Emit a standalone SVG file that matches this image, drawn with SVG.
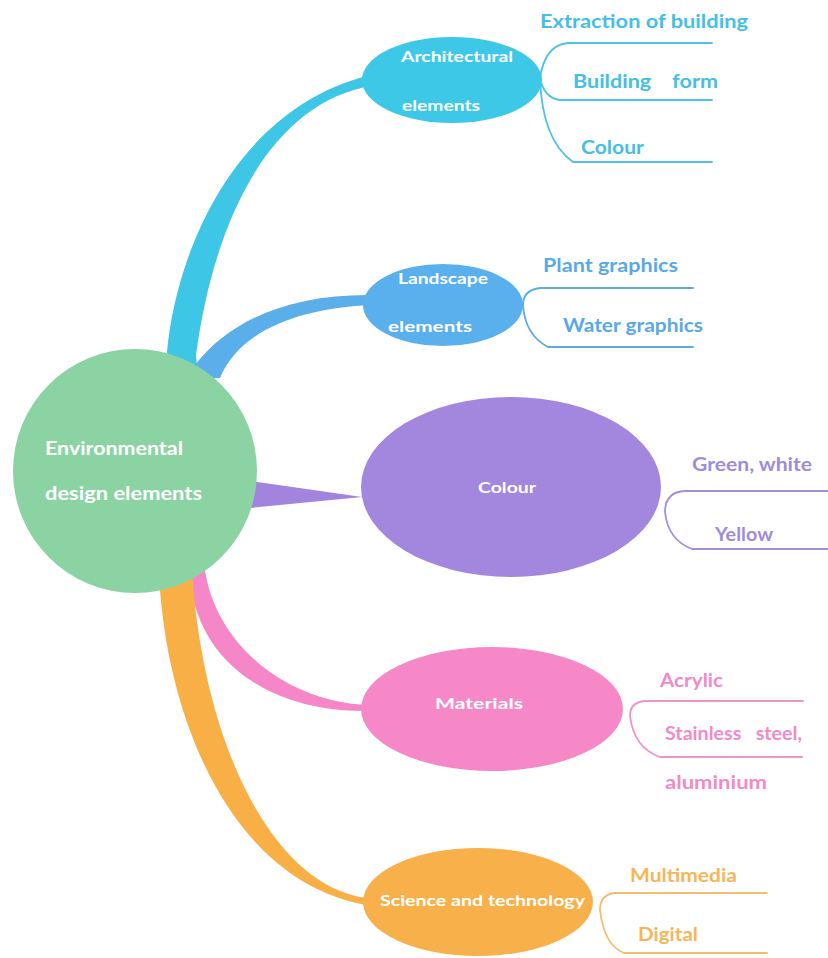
<svg xmlns="http://www.w3.org/2000/svg" width="828" height="958" viewBox="0 0 828 958">
<style>
text{font-family:Lato,"Open Sans","Liberation Sans",sans-serif;font-weight:bold;white-space:pre}
.nt{fill:#ffffff;font-size:15px}
.st{font-size:18px}
.ln{fill:none;stroke-width:1.8;stroke-linecap:round}
</style>
<rect width="828" height="958" fill="#ffffff"/>
<g id="connectors">
<path d="M170,380 L167,352 C175,260 230,110 370,75 L370,86 C272,104 215,215 196,355 L198,380 Z" fill="#3DC6E6"/>
<path d="M185,380 L195,365 C230,320 290,294 372,295 L372,305 C300,308 240,330 220,378 Z" fill="#5AAFEA"/>
<path d="M250,481 L362,497 L250,508 Z" fill="#A284DE"/>
<path d="M200,560 L205,570 C215,640 280,700 366,705 L366,711 C280,712 200,670 190,580 L185,560 Z" fill="#F586C8"/>
<path d="M160,570 L160,590 C170,720 230,880 366,905 L366,898 C270,885 205,740 193,583 L193,570 Z" fill="#F8B046"/>
</g>
<g id="center">
<circle cx="135" cy="471" r="122" fill="#8CD3A4"/>
<text class="nt" x="45" y="455" textLength="138" lengthAdjust="spacingAndGlyphs" style="font-size:18px">Environmental</text>
<text class="nt" x="45" y="500" textLength="157" lengthAdjust="spacingAndGlyphs" style="font-size:18px">design elements</text>
</g>
<g id="architectural">
<ellipse cx="452" cy="80" rx="90" ry="43" fill="#3DC8E8"/>
<text class="nt" x="401" y="62" textLength="112" lengthAdjust="spacingAndGlyphs">Architectural</text>
<text class="nt" x="402" y="111" textLength="78" lengthAdjust="spacingAndGlyphs">elements</text>
<path class="ln" stroke="#4CC3E6" d="M712,43 H568 Q545,45 540,78 Q544,98 560,100 H712 M540,78 Q542,140 573,162 H712"/>
<text class="st" x="540" y="28" fill="#45C0E4" textLength="208" lengthAdjust="spacingAndGlyphs">Extraction of building</text>
<text class="st" x="573" y="88" fill="#45C0E4" textLength="145" lengthAdjust="spacingAndGlyphs" xml:space="preserve">Building    form</text>
<text class="st" x="581" y="154" fill="#45C0E4" textLength="63" lengthAdjust="spacingAndGlyphs">Colour</text>
</g>
<g id="landscape">
<ellipse cx="443" cy="305" rx="80" ry="41" fill="#5AB0EC"/>
<text class="nt" x="398" y="284" textLength="90" lengthAdjust="spacingAndGlyphs">Landscape</text>
<text class="nt" x="388" y="332" textLength="84" lengthAdjust="spacingAndGlyphs">elements</text>
<path class="ln" stroke="#5AABE6" d="M693,288 H540 Q523,290 523,305 Q525,335 548,347 H693"/>
<text class="st" x="543" y="272" fill="#5AA9E4" textLength="135" lengthAdjust="spacingAndGlyphs">Plant graphics</text>
<text class="st" x="563" y="332" fill="#5AA9E4" textLength="140" lengthAdjust="spacingAndGlyphs">Water graphics</text>
</g>
<g id="colour">
<ellipse cx="511" cy="487" rx="150" ry="90" fill="#A386DE"/>
<text class="nt" x="478" y="493" textLength="58" lengthAdjust="spacingAndGlyphs">Colour</text>
<path class="ln" stroke="#A58DDD" d="M828,491 H685 Q665,492 665,512 Q668,540 692,549 H828"/>
<text class="st" x="692" y="471" fill="#9E8CD8" textLength="120" lengthAdjust="spacingAndGlyphs">Green, white</text>
<text class="st" x="715" y="541" fill="#9E8CD8" textLength="58" lengthAdjust="spacingAndGlyphs">Yellow</text>
</g>
<g id="materials">
<ellipse cx="492" cy="709" rx="131" ry="62" fill="#F688C8"/>
<text class="nt" x="435" y="709" textLength="88" lengthAdjust="spacingAndGlyphs" style="font-size:16px">Materials</text>
<path class="ln" stroke="#F290C8" d="M803,701 H645 Q630,702 630,716 Q634,748 660,757 H802"/>
<text class="st" x="660" y="687" fill="#F28AC8" textLength="63" lengthAdjust="spacingAndGlyphs">Acrylic</text>
<text class="st" x="665" y="740" fill="#F28AC8" textLength="137" lengthAdjust="spacingAndGlyphs" xml:space="preserve">Stainless   steel,</text>
<text class="st" x="665" y="789" fill="#F28AC8" textLength="102" lengthAdjust="spacingAndGlyphs">aluminium</text>
</g>
<g id="science">
<ellipse cx="478" cy="902" rx="115" ry="54" fill="#F8B04A"/>
<text class="nt" x="380" y="906" textLength="205" lengthAdjust="spacingAndGlyphs" style="font-size:16px">Science and technology</text>
<path class="ln" stroke="#F5BC6A" d="M767,893 H614 Q600,895 600,910 Q604,945 624,953 H767"/>
<text class="st" x="630" y="882" fill="#F6B658" textLength="107" lengthAdjust="spacingAndGlyphs">Multimedia</text>
<text class="st" x="638" y="941" fill="#F6B658" textLength="60" lengthAdjust="spacingAndGlyphs">Digital</text>
</g>
</svg>
